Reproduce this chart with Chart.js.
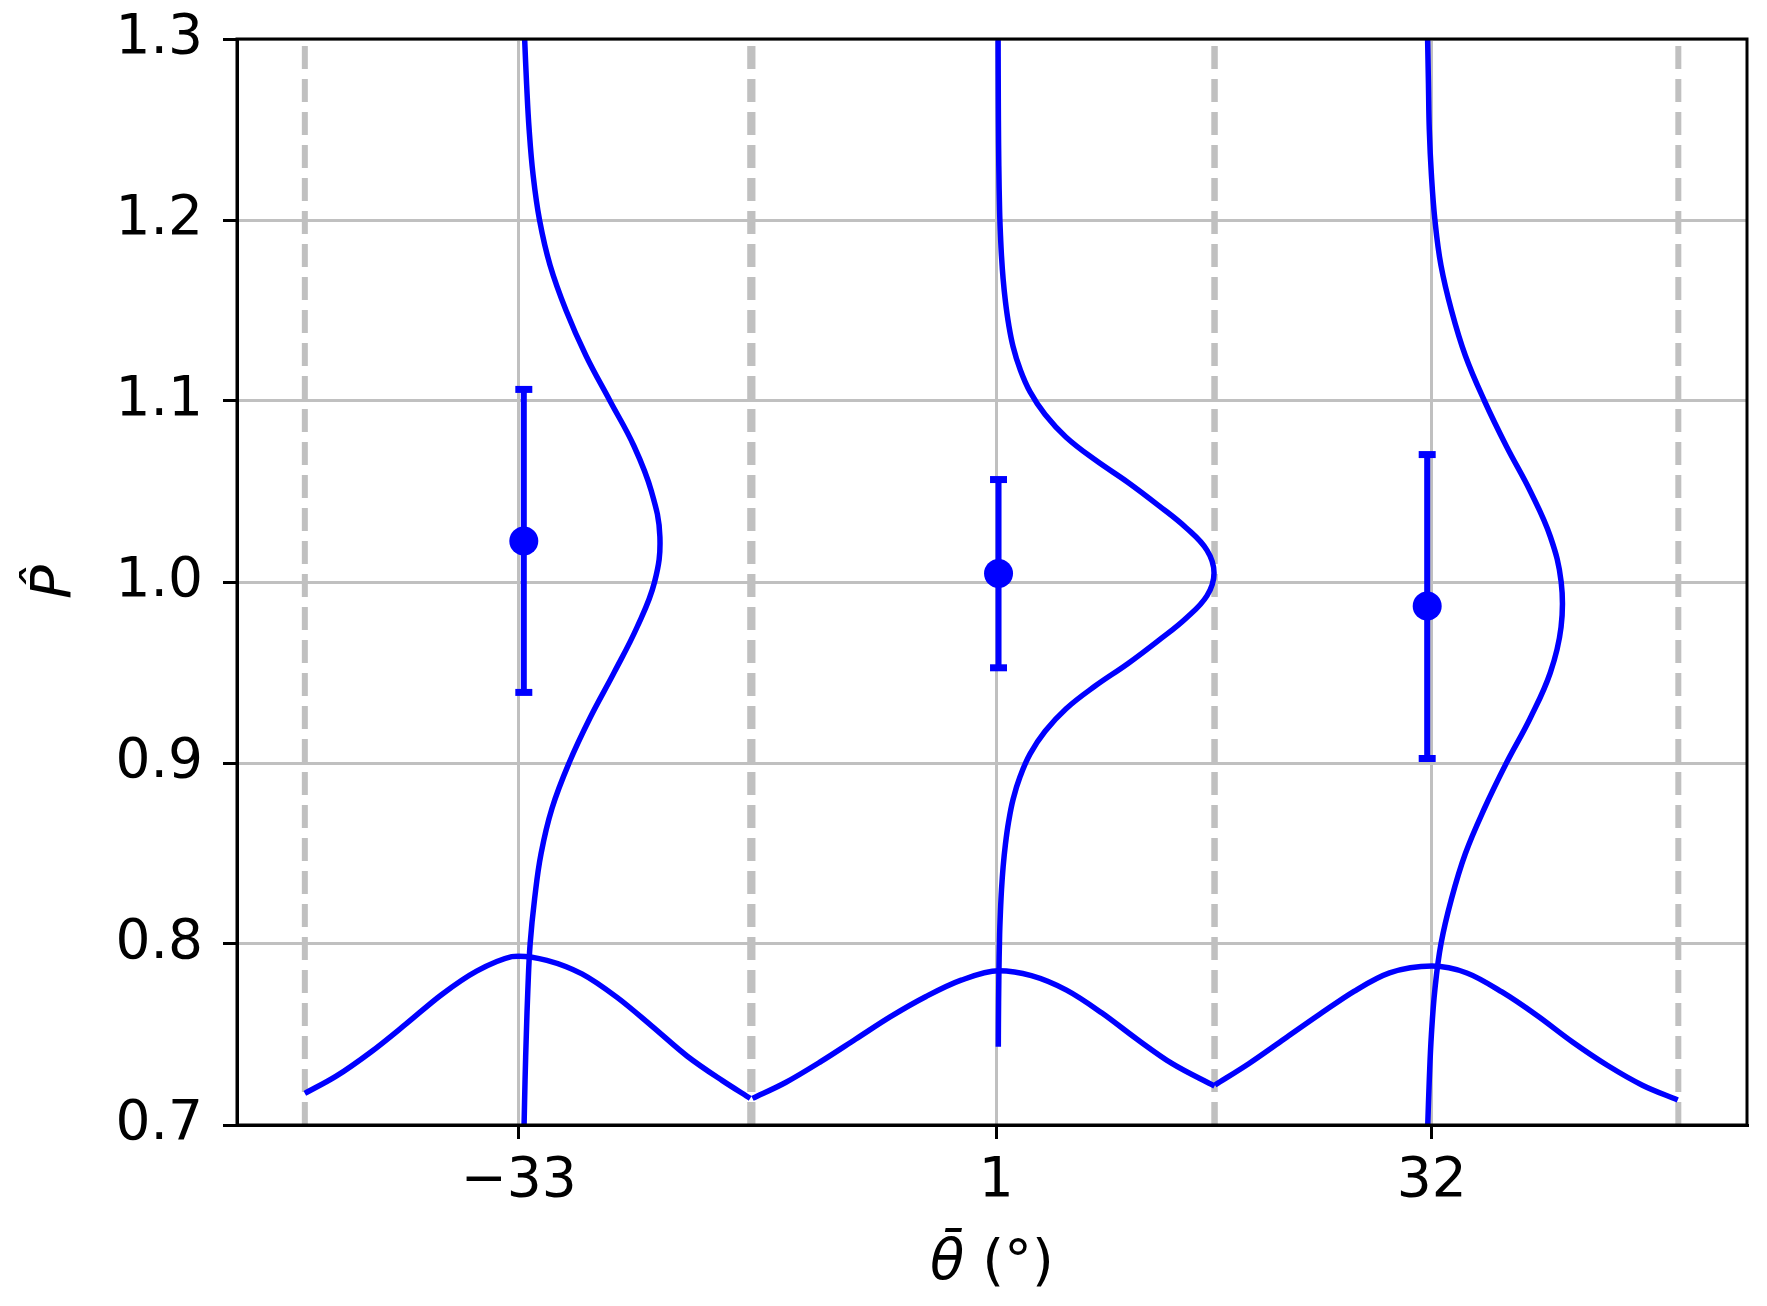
<!DOCTYPE html>
<html><head><meta charset="utf-8">
<script src="https://cdn.jsdelivr.net/npm/chart.js@4.4.0/dist/chart.umd.min.js"></script>
<style>html,body{margin:0;padding:0;background:#fff;overflow:hidden}canvas{display:block}</style>
</head><body>
<canvas id="c" width="1767" height="1306"></canvas>
<script>
// ---------- data ----------
const xTickValues = [-33, 1, 32];
const xTickLabels = ['\u221233', '1', '32'];
const yTickValues = [0.7, 0.8, 0.9, 1.0, 1.1, 1.2, 1.3];
const yTickLabels = ['0.7', '0.8', '0.9', '1.0', '1.1', '1.2', '1.3'];

// bin edges (deg)
const binLo = [-48.23, -16.36, 16.54];
const binHi = [-16.52, 16.54, 49.56];

// point estimates and intervals
const meanTheta = [-32.64, 1.16, 31.68];
const pHat      = [1.0227, 1.0047, 0.9867];
const pLow      = [0.939, 0.9526, 0.9025];
const pHigh     = [1.1064, 1.0566, 1.0704];

// sideways posterior curves (P value -> theta position)
const leftPostY  = [1.3, 1.275, 1.25, 1.225, 1.2, 1.175, 1.15, 1.125, 1.1, 1.075, 1.05, 1.025, 1.0, 0.975, 0.95, 0.925, 0.9, 0.875, 0.85, 0.825, 0.8, 0.775, 0.75, 0.725, 0.7];
const leftPostX  = [-32.58, -32.44, -32.26, -31.98, -31.52, -30.77, -29.63, -28.21, -26.50, -24.79, -23.55, -22.95, -23.33, -24.58, -26.21, -27.92, -29.42, -30.63, -31.41, -31.87, -32.19, -32.35, -32.46, -32.55, -32.62];
const midPostY   = [1.3, 1.28, 1.255, 1.23, 1.205, 1.1925, 1.18, 1.1675, 1.155, 1.1425, 1.13, 1.1175, 1.105, 1.0925, 1.08, 1.0675, 1.055, 1.0425, 1.03, 1.0175, 1.005, 0.9925, 0.98, 0.9675, 0.955, 0.9425, 0.93, 0.9175, 0.905, 0.8925, 0.88, 0.8675, 0.855, 0.8425, 0.83, 0.8175, 0.805, 0.78, 0.7555, 0.7432];
const midPostX   = [1.130, 1.137, 1.151, 1.180, 1.237, 1.294, 1.372, 1.486, 1.650, 1.877, 2.198, 2.696, 3.408, 4.475, 5.970, 8.034, 10.383, 12.518, 14.511, 16.006, 16.504, 16.006, 14.511, 12.518, 10.383, 8.034, 5.970, 4.475, 3.408, 2.696, 2.198, 1.877, 1.650, 1.486, 1.372, 1.294, 1.237, 1.180, 1.151, 1.144];
const rightPostY = [1.3, 1.275, 1.25, 1.225, 1.2, 1.175, 1.15, 1.125, 1.1, 1.075, 1.05, 1.025, 1.0, 0.975, 0.95, 0.925, 0.9, 0.875, 0.85, 0.825, 0.8, 0.775, 0.75, 0.725, 0.7];
const rightPostX = [31.71, 31.77, 31.83, 31.98, 32.23, 32.66, 33.41, 34.40, 35.76, 37.32, 39.03, 40.45, 41.22, 41.21, 40.45, 39.03, 37.32, 35.76, 34.40, 33.41, 32.66, 32.23, 31.98, 31.83, 31.72];

// angle distributions at the bottom (theta -> height)
const leftPriorX  = [-48.23, -46.0, -43.5, -41.0, -38.5, -36.0, -33.5, -33.0, -31.0, -28.5, -26.0, -23.5, -21.0, -18.5, -16.52];
const leftPriorY  = [0.7175, 0.7270, 0.7405, 0.7560, 0.7720, 0.7850, 0.7930, 0.7933, 0.7910, 0.7835, 0.7705, 0.7545, 0.7380, 0.7245, 0.7147];
const midPriorX   = [-16.36, -14.0, -11.5, -9.0, -6.5, -4.0, -1.5, 1.16, 3.5, 6.0, 8.5, 11.0, 13.5, 16.54];
const midPriorY   = [0.7147, 0.7235, 0.7350, 0.7475, 0.7600, 0.7710, 0.7800, 0.7852, 0.7825, 0.7745, 0.7620, 0.7475, 0.7340, 0.7215];
const rightPriorX = [16.57, 19.0, 21.5, 24.0, 26.5, 29.0, 32.02, 34.5, 37.0, 39.5, 42.0, 44.5, 47.0, 49.52];
const rightPriorY = [0.7221, 0.7340, 0.7475, 0.7610, 0.7740, 0.7840, 0.7878, 0.7840, 0.7735, 0.7605, 0.7460, 0.7330, 0.7220, 0.7138];

// ---------- chart ----------
const BLUE = '#0000ff', GRAY = '#c0c0c0', FONT = '"DejaVu Sans", sans-serif';
const pts = (xs, ys) => xs.map((x, i) => ({x: x, y: ys[i]}));
const datasets = [];

binLo.concat(binHi).forEach(e => datasets.push({
  data: [{x: e, y: 0.7}, {x: e, y: 1.3}], showLine: true, borderColor: GRAY,
  borderWidth: 6, borderDash: [23, 10], pointRadius: 0, order: 10
}));

[[leftPostX, leftPostY], [midPostX, midPostY], [rightPostX, rightPostY]].forEach(c => datasets.push({
  data: pts(c[0], c[1]), showLine: true, borderColor: BLUE, borderWidth: 5.5,
  tension: 0.4, pointRadius: 0, order: 5
}));

[[leftPriorX, leftPriorY], [midPriorX, midPriorY], [rightPriorX, rightPriorY]].forEach(c => datasets.push({
  data: pts(c[0], c[1]), showLine: true, borderColor: BLUE, borderWidth: 5.5,
  cubicInterpolationMode: 'monotone', pointRadius: 0, order: 5
}));

meanTheta.forEach((m, i) => datasets.push({
  data: [{x: m, y: pLow[i]}, {x: m, y: pHigh[i]}], showLine: true, borderColor: BLUE,
  borderWidth: 6, pointStyle: 'line', pointRadius: 8.5, pointBorderWidth: 7,
  pointBorderColor: BLUE, pointBackgroundColor: BLUE, order: 2
}));

datasets.push({
  data: pts(meanTheta, pHat), showLine: false, pointStyle: 'circle', pointRadius: 14.5,
  pointBackgroundColor: BLUE, pointBorderWidth: 0, order: 1
});

const framePlugin = {
  id: 'frame',
  afterDatasetsDraw(chart) {
    const a = chart.chartArea, ctx = chart.ctx;
    ctx.save();
    ctx.strokeStyle = '#000'; ctx.lineWidth = 3;
    ctx.strokeRect(a.left, a.top, a.right - a.left, a.bottom - a.top);
    ctx.restore();
  },
  afterDraw(chart) {
    const a = chart.chartArea, ctx = chart.ctx;
    ctx.save();
    ctx.fillStyle = '#000';
    ctx.translate(70, (a.top + a.bottom) / 2);
    ctx.rotate(-Math.PI / 2);
    ctx.font = 'italic 56px ' + FONT;
    ctx.textAlign = 'center'; ctx.textBaseline = 'alphabetic';
    ctx.fillText('P\u0302', 0, 0);
    ctx.restore();
    ctx.save();
    ctx.fillStyle = '#000';
    const t1 = '\u03B8\u0304', t2 = ' (\u00B0)';
    ctx.font = 'italic 56px ' + FONT; const w1 = ctx.measureText(t1).width;
    ctx.font = '56px ' + FONT; const w2 = ctx.measureText(t2).width;
    const cx = (a.left + a.right) / 2, by = 1279;
    const x0 = cx - (w1 + w2) / 2;
    ctx.textAlign = 'left'; ctx.textBaseline = 'alphabetic';
    ctx.font = 'italic 56px ' + FONT; ctx.fillText(t1, x0, by);
    ctx.font = '56px ' + FONT; ctx.fillText(t2, x0 + w1, by);
    ctx.restore();
  }
};

new Chart(document.getElementById('c'), {
  type: 'scatter',
  data: {datasets: datasets},
  plugins: [framePlugin],
  options: {
    responsive: false, animation: false, devicePixelRatio: 1, events: [],
    layout: {padding: {left: 0, top: 39, right: 20, bottom: 0}},
    plugins: {legend: {display: false}, tooltip: {enabled: false}, title: {display: false}},
    scales: {
      x: {
        type: 'linear', min: -53.06, max: 54.45,
        afterBuildTicks: s => { s.ticks = xTickValues.map(v => ({value: v})); },
        afterFit: s => { s.height = 181; s.paddingLeft = 0; s.paddingRight = 0; },
        grid: {color: GRAY, lineWidth: 3, tickColor: '#000', tickWidth: 3, tickLength: 14, drawTicks: true},
        border: {display: true, color: '#000', width: 3},
        ticks: {color: '#000', font: {family: FONT, size: 55}, padding: 10, maxRotation: 0, autoSkip: false,
                callback: (v, i) => xTickLabels[i]}
      },
      y: {
        type: 'linear', min: 0.7, max: 1.3,
        afterBuildTicks: s => { s.ticks = yTickValues.map(v => ({value: v})); },
        afterFit: s => { s.width = 237; s.paddingTop = 0; s.paddingBottom = 0; },
        grid: {color: GRAY, lineWidth: 3, tickColor: '#000', tickWidth: 3, tickLength: 14, drawTicks: true},
        border: {display: true, color: '#000', width: 3},
        ticks: {color: '#000', font: {family: FONT, size: 55}, padding: 20, autoSkip: false,
                callback: (v, i) => yTickLabels[i]}
      }
    }
  }
});
</script>
</body></html>
